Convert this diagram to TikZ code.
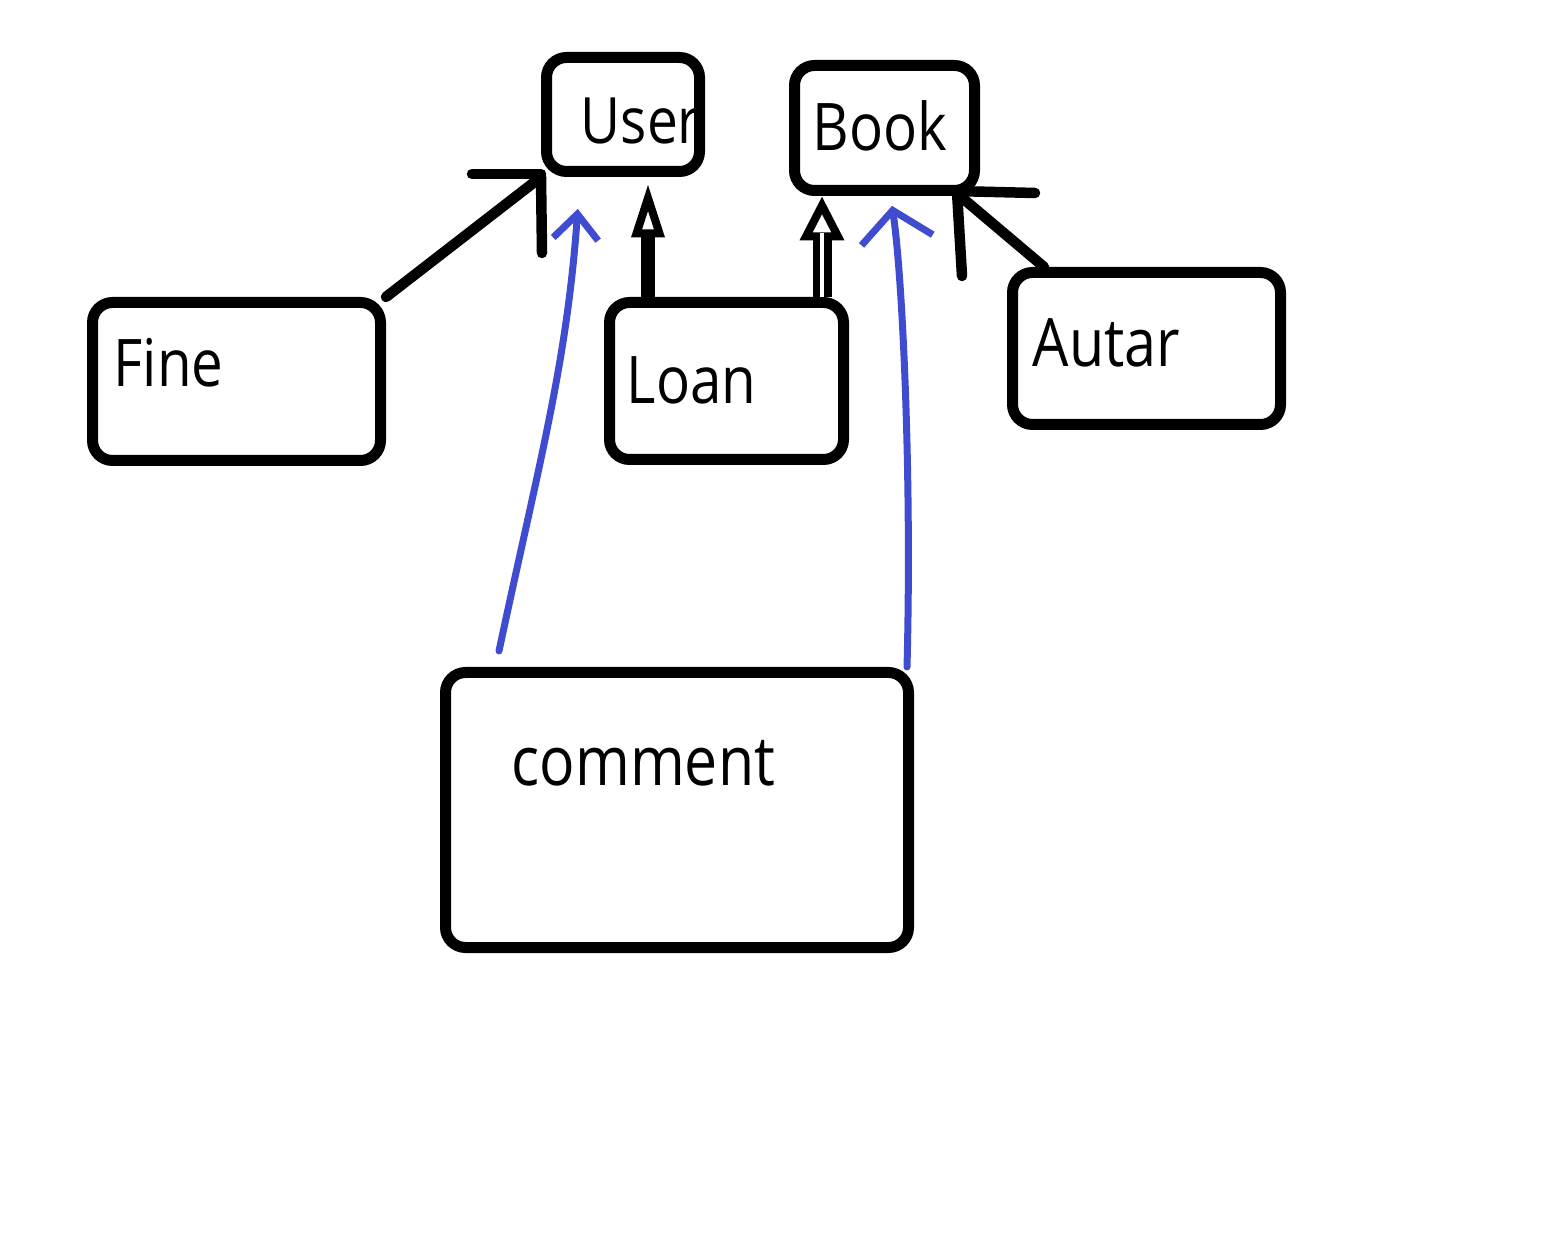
\documentclass[tikz,border=0pt]{standalone}
\usepackage{fontspec}
\setmainfont[FakeStretch=0.86]{Open Sans}
\usetikzlibrary{arrows.meta}
\definecolor{pen}{RGB}{64,76,208}
\tikzset{
  box/.style={draw, line width=0.11cm, rounded corners=0.2cm},
  word/.style={anchor=base west, inner sep=0pt, font=\fontsize{18.7}{22}\selectfont},
  link/.style={line width=0.105cm, line cap=round},
  note/.style={draw=pen, line width=0.07cm, line cap=round},
  head/.style={draw, fill=white, line width=0.08cm, line join=miter}
}
\begin{document}
\begin{tikzpicture}
\useasboundingbox (0,0) rectangle (15.42,-12.54);
\fill node[box, minimum width=1.53cm, minimum height=1.14cm] at (6.23,-1.145) (user) {};
\fill node[box, minimum width=1.80cm, minimum height=1.25cm] at (8.845,-1.28) (book) {};
\fill node[box, minimum width=2.88cm, minimum height=1.58cm] at (2.365,-3.815) (fine) {};
\fill node[box, minimum width=2.34cm, minimum height=1.57cm] at (7.265,-3.81) (loan) {};
\fill node[box, minimum width=2.68cm, minimum height=1.52cm] at (11.465,-3.485) (autar) {};
\fill node[box, minimum width=4.63cm, minimum height=2.75cm] at (6.77,-8.10) (comment) {};

\fill node[word, font=\fontsize{18.2}{22}\selectfont] at (5.80,-1.44) (user-t) {User};
\fill node[word] at (8.12,-1.51) (book-t) {Book};
\fill node[word] at (1.13,-3.87) (fine-t) {Fine};
\fill node[word] at (6.26,-4.04) (loan-t) {Loan};
\fill node[word, font=\fontsize{19}{22}\selectfont] at (10.32,-3.67) (autar-t) {Autar};
\fill node[word, font=\fontsize{19.5}{23}\selectfont] at (5.11,-7.85) (comment-t) {comment};

\coordinate (lu) at (6.48,-2.335);
\coordinate (lb) at (8.22,-2.33);

\draw[link] (fine.north east) -- (user.south west);
\draw[link] (user.south west) ++(0,0.03) -- ++(-0.69,0);
\draw[link] (user.south west) -- ++(0.01,-0.76);

\draw[link] ([xshift=0.37cm]autar.north west) -- ([xshift=-0.2cm]book.south east);
\draw[link] ([xshift=-0.2cm]book.south east) ++(-0.07,0.05) -- ++(0.82,-0.02);
\draw[link] ([xshift=-0.2cm]book.south east) ++(-0.03,0.04) -- ++(0.05,-0.84);

\draw[line width=0.14cm] (loan.north -| lu) -- (lu);
\draw[head] (lu) ++(0,0.355) -- ++(-0.115,-0.355) -- ++(0.23,0) -- cycle;

\draw[head] (lb) ++(0,0.275) -- ++(-0.16,-0.31) -- ++(0.32,0) -- cycle;
\draw[line width=0.075cm, double, double distance=0.04cm] (loan.north -| lb) -- (lb);

\draw[note, -{Straight Barb[length=0.25cm,width=0.45cm]}, shorten >=0.32cm]
  ([shift={(0.59,0.16)}]comment.north west) to[out=78,in=-94] ([xshift=-0.43cm]user.south);
\draw[note, -{Straight Barb[length=0.30cm,width=0.72cm]}, shorten >=0.10cm]
  ([xshift=-0.07cm]comment.north east) .. controls ++(0.05,1.9) and ++(0.12,-0.8) .. ([xshift=0.06cm]book.south);
\end{tikzpicture}
\end{document}
